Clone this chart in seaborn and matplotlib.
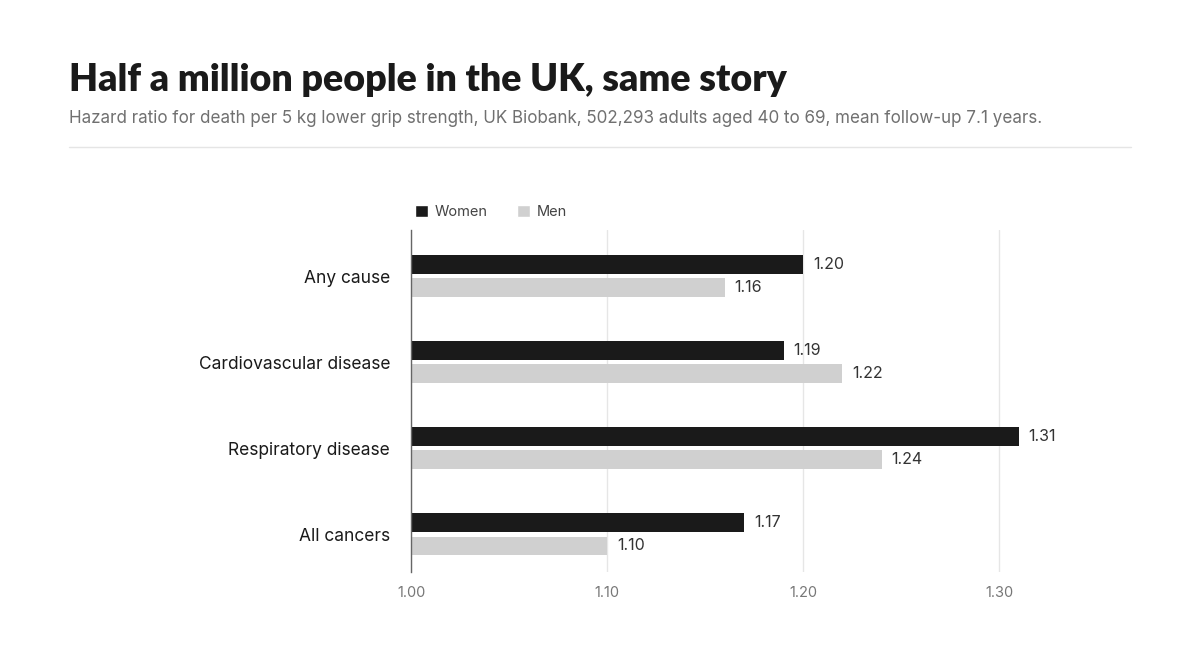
import matplotlib
matplotlib.use("Agg")
import matplotlib.pyplot as plt
import seaborn as sns
import pandas as pd
from matplotlib.lines import Line2D
from matplotlib.patches import Patch

# datos
causas = ["Any cause", "Cardiovascular disease", "Respiratory disease", "All cancers"]
mujeres = [1.20, 1.19, 1.31, 1.17]
hombres = [1.16, 1.22, 1.24, 1.10]
ticks = [1.00, 1.10, 1.20, 1.30]

df = pd.DataFrame({
    "cause": causas * 2,
    "sex": ["Women"] * 4 + ["Men"] * 4,
    "hr": mujeres + hombres,
})

sns.set_theme(style="white")
plt.rcParams["font.family"] = ["Inter", "DejaVu Sans"]

fig = plt.figure(figsize=(12, 6.68), dpi=100)
ax = fig.add_axes([0.3425, 0.1437, 0.5392, 0.512])

sns.barplot(data=df, y="cause", x="hr", hue="sex", order=causas,
            hue_order=["Women", "Men"], palette=["#1a1a1a", "#d0d0d0"],
            orient="h", width=0.55, gap=0.2, legend=False, ax=ax,
            saturation=1)

# las barras arrancan en 1.00, no en 0
for p in ax.patches:
    w = p.get_width()
    p.set_x(1.0)
    p.set_width(w - 1.0)
    p.set_linewidth(0)

for p in ax.patches:
    val = p.get_x() + p.get_width()
    ax.text(val + 0.005, p.get_y() + p.get_height() / 2, f"{val:.2f}",
            va="center", ha="left", fontsize=11.5, color="#333333")

ax.set_xlim(1.0, 1.33)
ax.set_ylim(3.44, -0.535)
ax.set_xticks(ticks)
ax.set_xticklabels([f"{t:.2f}" for t in ticks], color="#777777", fontsize=10.5)
ax.tick_params(axis="x", length=0, pad=10)
ax.tick_params(axis="y", length=0, pad=15, labelsize=12.5, labelcolor="#1a1a1a")
ax.set_xlabel("")
ax.set_ylabel("")
ax.xaxis.grid(True, color="#e6e6e6", linewidth=1)
ax.set_axisbelow(True)
for s in ["top", "right", "bottom"]:
    ax.spines[s].set_visible(False)
ax.spines["left"].set_color("#666666")
ax.spines["left"].set_linewidth(1)

# leyenda
handles = [Patch(facecolor="#1a1a1a", label="Women"),
           Patch(facecolor="#d0d0d0", label="Men")]
fig.legend(handles=handles, loc="center left", bbox_to_anchor=(0.335, 0.683),
           ncol=2, frameon=False, fontsize=10.5, handlelength=0.9, handleheight=0.9,
           handletextpad=0.45, columnspacing=2.0, labelcolor="#444444")

fig.text(0.0575, 0.88, "Half a million people in the UK, same story",
         fontsize=27, fontweight="heavy", color="#1a1a1a",
         family=["Lato", "DejaVu Sans"], va="center")
fig.text(0.0575, 0.823,
         "Hazard ratio for death per 5 kg lower grip strength, UK Biobank, 502,293 adults aged 40 to 69, mean follow-up 7.1 years.",
         fontsize=12.25, color="#707070", va="center")
fig.add_artist(Line2D([0.0575, 0.9425], [0.78, 0.78], color="#e5e5e5", linewidth=1))

fig.savefig("out.png", dpi=100, facecolor="white")
